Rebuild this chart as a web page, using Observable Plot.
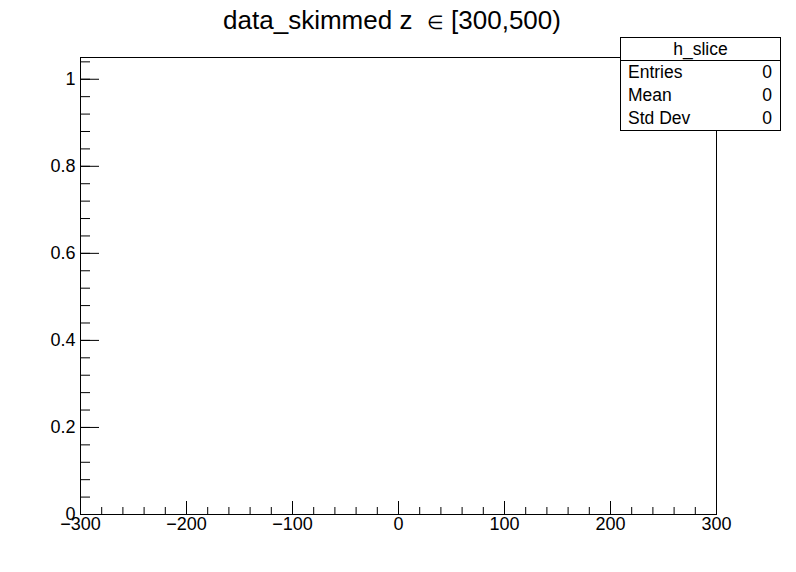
<!DOCTYPE html>
<html>
<head>
<meta charset="utf-8">
<script src="https://cdn.jsdelivr.net/npm/d3@7"></script>
<script src="https://cdn.jsdelivr.net/npm/@observablehq/plot@0.6"></script>
<style>
  html, body { margin: 0; padding: 0; background: #fff; }
  #wrap { position: relative; width: 796px; height: 572px; font-family: "Liberation Sans", Arial, Helvetica, sans-serif; }
  #title { position: absolute; left: -6px; top: 4px; width: 796px; text-align: center; font-size: 26px; line-height: 32px; color: #000; white-space: pre; }
  #title .sym { font-size: 19px; }
  #stats { position: absolute; left: 620px; top: 37px; width: 159px; border: 1px solid #000; background: #fff; font-size: 17.5px; color: #000; }
  #stats .hd { text-align: center; height: 22px; line-height: 22px; border-bottom: 1px solid #000; }
  #stats .row { display: flex; justify-content: space-between; height: 23px; line-height: 23px; padding: 0 8px 0 7px; }
  svg { position: absolute; left: 0; top: 0; }
</style>
</head>
<body>
<div id="wrap">
  <div id="chart"></div>
  <div id="title"></div>
  <div id="stats"></div>
</div>
<script>
// Chart content (empty histogram)
const titlePre = "data_skimmed z  ";
const titleSym = "\u2208";
const titlePost = " [300,500)";
const histName = "h_slice";
const statLabels = ["Entries", "Mean", "Std Dev"];
const statValues = [0, 0, 0];
const xDomain = [-300, 300];
const yDomain = [0, 1.05];
const xMajorTicks = [-300, -200, -100, 0, 100, 200, 300];
const xMinorTicks = d3.range(-300, 300.001, 20);
const yMajorTicks = [0, 0.2, 0.4, 0.6, 0.8, 1];
const yMinorTicks = d3.range(0, 1.0401, 0.04);
const binValues = []; // no entries

const t = document.getElementById("title");
t.appendChild(document.createTextNode(titlePre));
const s = document.createElement("span"); s.className = "sym"; s.textContent = titleSym; t.appendChild(s);
t.appendChild(document.createTextNode(titlePost));

const stats = document.getElementById("stats");
stats.innerHTML = `<div class="hd">${histName}</div>` +
  statLabels.map((l, i) => `<div class="row"><span>${l}</span><span>${statValues[i]}</span></div>`).join("");

const yFmt = d => d === 0 ? "0" : d === 1 ? "1" : d3.format(".1f")(d);

const chart = Plot.plot({
  width: 796,
  height: 572,
  marginLeft: 80,
  marginRight: 80,
  marginTop: 57,
  marginBottom: 58,
  style: { fontFamily: "Liberation Sans, Arial, sans-serif", fontSize: "18px", color: "#000", background: "transparent" },
  x: { domain: xDomain },
  y: { domain: yDomain },
  marks: [
    Plot.rectY(binValues, { x1: "x1", x2: "x2", y: "y", stroke: "#000" }),
    Plot.axisX(xMinorTicks, { anchor: "bottom", tickSize: 7, dy: -7, text: null, label: null, stroke: "#000" }),
    Plot.axisX(xMajorTicks, { anchor: "bottom", tickSize: 13, dy: -13, text: null, label: null, stroke: "#000" }),
    Plot.axisX(xMajorTicks, { anchor: "bottom", tickSize: 0, tickPadding: 3, label: null, fill: "#000", fontSize: 18 }),
    Plot.axisY(yMinorTicks, { anchor: "left", tickSize: 10, dx: 10, text: null, label: null, stroke: "#000" }),
    Plot.axisY(yMajorTicks, { anchor: "left", tickSize: 19, dx: 19, text: null, label: null, stroke: "#000" }),
    Plot.axisY(yMajorTicks, { anchor: "left", tickSize: 0, tickPadding: 5, tickFormat: yFmt, label: null, fill: "#000", fontSize: 18 }),
    Plot.frame({ stroke: "#000" })
  ]
});
document.getElementById("chart").appendChild(chart);
</script>
</body>
</html>
